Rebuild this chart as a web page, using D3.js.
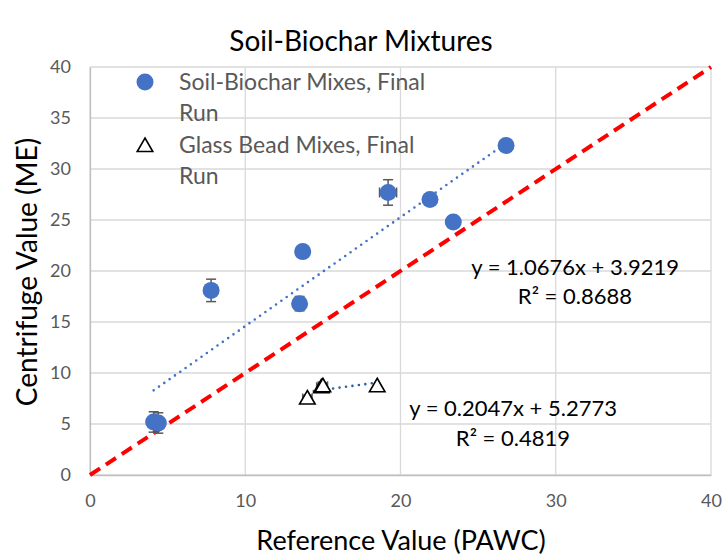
<!DOCTYPE html>
<html>
<head>
<meta charset="utf-8">
<script src="https://cdn.jsdelivr.net/npm/d3@7"></script>
<style>
  body { margin: 0; background: #fff; }
  text { font-family: Lato, "Open Sans", sans-serif; }
</style>
</head>
<body>
<script>
const W = 722, H = 558
const margin = {top: 67, right: 11, bottom: 83, left: 90}

// soil-biochar mixes
const soilX = [4.1, 4.4, 7.8, 13.5, 13.7, 19.2, 21.9, 23.4, 26.8]
const soilY = [5.2, 5.1, 18.1, 16.8, 21.9, 27.7, 27.0, 24.8, 32.3]
const soilYErr = [1.0, 1.0, 1.1, 0.7, 0, 1.25, 0, 0, 0]
const soilXErr = [0, 0, 0, 0, 0, 0.55, 0, 0, 0]

// glass bead mixes
const glassX = [14.0, 14.9, 15.0, 18.5]
const glassY = [7.5, 8.6, 8.7, 8.7]
const glassErr = [0.3, 0.3, 0.3, 0]

// linear fits shown on chart
const fitSlope = [1.0676, 0.2047]
const fitIntercept = [3.9219, 5.2773]
const fitLabels = ['y = 1.0676x + 3.9219', 'y = 0.2047x + 5.2773']
const r2Labels = ['R² = 0.8688', 'R² = 0.4819']

const xTicks = [0, 10, 20, 30, 40]
const yTicks = [0, 5, 10, 15, 20, 25, 30, 35, 40]

const svg = d3.select('body').append('svg')
    .attr('width', W)
    .attr('height', H)

const x = d3.scaleLinear().domain([0, 40]).range([margin.left, W - margin.right])
const y = d3.scaleLinear().domain([0, 40]).range([H - margin.bottom, margin.top])

// gridlines
svg.append('g').selectAll('line').data(yTicks).enter().append('line')
    .attr('x1', x(0)).attr('x2', x(40))
    .attr('y1', d => y(d)).attr('y2', d => y(d))
    .attr('stroke', '#d9d9d9').attr('stroke-width', 1.3)
svg.append('g').selectAll('line').data(xTicks).enter().append('line')
    .attr('y1', y(0)).attr('y2', y(40))
    .attr('x1', d => x(d)).attr('x2', d => x(d))
    .attr('stroke', '#d9d9d9').attr('stroke-width', 1.3)

// axes (labels only)
const xAxis = svg.append('g')
    .attr('transform', 'translate(0,' + y(0) + ')')
    .call(d3.axisBottom(x).tickValues(xTicks).tickSize(0).tickPadding(19))
const yAxis = svg.append('g')
    .attr('transform', 'translate(' + x(0) + ',0)')
    .call(d3.axisLeft(y).tickValues(yTicks).tickSize(0).tickPadding(19))
xAxis.select('.domain').attr('stroke', '#bfbfbf').attr('stroke-width', 1.3)
yAxis.select('.domain').attr('stroke', '#bfbfbf').attr('stroke-width', 1.3)
svg.selectAll('.tick text')
    .attr('fill', '#595959')
    .attr('font-size', '18px')
    .style('font-family', 'Lato, sans-serif')

// 1:1 line
svg.append('line')
    .attr('x1', x(0)).attr('y1', y(0))
    .attr('x2', x(40)).attr('y2', y(40))
    .attr('stroke', '#ff0000')
    .attr('stroke-width', 4)
    .attr('stroke-dasharray', '12,7')

// trendlines
const soilExt = d3.extent(soilX)
const glassExt = d3.extent(glassX)
const fitRanges = [soilExt, glassExt]
const fitColors = ['#4472c4', '#2e6199']
fitRanges.forEach((r, i) => {
  svg.append('line')
      .attr('x1', x(r[0])).attr('y1', y(fitSlope[i] * r[0] + fitIntercept[i]))
      .attr('x2', x(r[1])).attr('y2', y(fitSlope[i] * r[1] + fitIntercept[i]))
      .attr('stroke', fitColors[i])
      .attr('stroke-width', 2.6)
      .attr('stroke-linecap', 'round')
      .attr('stroke-dasharray', '0,6.5')
})

// error bars
function errBars(xs, ys, ex, ey) {
  const g = svg.append('g').attr('stroke', '#595959').attr('stroke-width', 1.5)
  xs.forEach((xv, i) => {
    if (ey[i] > 0) {
      g.append('line').attr('x1', x(xv)).attr('x2', x(xv))
          .attr('y1', y(ys[i] - ey[i])).attr('y2', y(ys[i] + ey[i]))
      ;[ys[i] - ey[i], ys[i] + ey[i]].forEach(v => {
        g.append('line').attr('x1', x(xv) - 5).attr('x2', x(xv) + 5)
            .attr('y1', y(v)).attr('y2', y(v))
      })
    }
    if (ex[i] > 0) {
      g.append('line').attr('y1', y(ys[i])).attr('y2', y(ys[i]))
          .attr('x1', x(xv - ex[i])).attr('x2', x(xv + ex[i]))
      ;[xv - ex[i], xv + ex[i]].forEach(v => {
        g.append('line').attr('y1', y(ys[i]) - 5).attr('y2', y(ys[i]) + 5)
            .attr('x1', x(v)).attr('x2', x(v))
      })
    }
  })
}
errBars(soilX, soilY, soilXErr, soilYErr)
errBars(glassX, glassY, glassErr, glassErr)

// points
svg.append('g').selectAll('circle').data(soilX).enter().append('circle')
    .attr('cx', d => x(d))
    .attr('cy', (d, i) => y(soilY[i]))
    .attr('r', 8.5)
    .attr('fill', '#4472c4')

const tri = d3.symbol().type(d3.symbolTriangle).size(105)
svg.append('g').selectAll('path').data(glassX).enter().append('path')
    .attr('d', tri)
    .attr('transform', (d, i) => 'translate(' + x(d) + ',' + (y(glassY[i]) + 1) + ')')
    .attr('fill', '#fff')
    .attr('stroke', '#000')
    .attr('stroke-width', 1.6)

// trendline equations
const eqPos = [[679, 275, 632, 304], [617, 416, 570, 446]]
eqPos.forEach((p, i) => {
  svg.append('text').attr('x', p[0]).attr('y', p[1])
      .attr('text-anchor', 'end').attr('font-size', '22px').attr('fill', '#000')
      .text(fitLabels[i])
  svg.append('text').attr('x', p[2]).attr('y', p[3])
      .attr('text-anchor', 'end').attr('font-size', '22px').attr('fill', '#000')
      .text(r2Labels[i])
})

// legend
const legend = svg.append('g')
legend.append('circle').attr('cx', 145).attr('cy', 82).attr('r', 8.5).attr('fill', '#4472c4')
legend.append('path').attr('d', tri)
    .attr('transform', 'translate(145,147)')
    .attr('fill', '#fff').attr('stroke', '#000').attr('stroke-width', 1.6)
const legendText = [['Soil-Biochar Mixes, Final', 'Run'], ['Glass Bead Mixes, Final', 'Run']]
legendText.forEach((lines, i) => {
  lines.forEach((t, j) => {
    legend.append('text')
        .attr('x', 179).attr('y', 90 + i * 63 + j * 31)
        .attr('font-size', '23px').attr('fill', '#595959')
        .text(t)
  })
})

// titles
svg.append('text').attr('x', 361).attr('y', 51)
    .attr('text-anchor', 'middle').attr('font-size', '28px').attr('fill', '#000')
    .text('Soil-Biochar Mixtures')
svg.append('text').attr('x', 401).attr('y', 550)
    .attr('text-anchor', 'middle').attr('font-size', '27px').attr('fill', '#000')
    .text('Reference Value (PAWC)')
svg.append('text')
    .attr('transform', 'translate(37,272) rotate(-90)')
    .attr('text-anchor', 'middle').attr('font-size', '28px').attr('fill', '#000')
    .text('Centrifuge Value (ME)')
</script>
</body>
</html>
